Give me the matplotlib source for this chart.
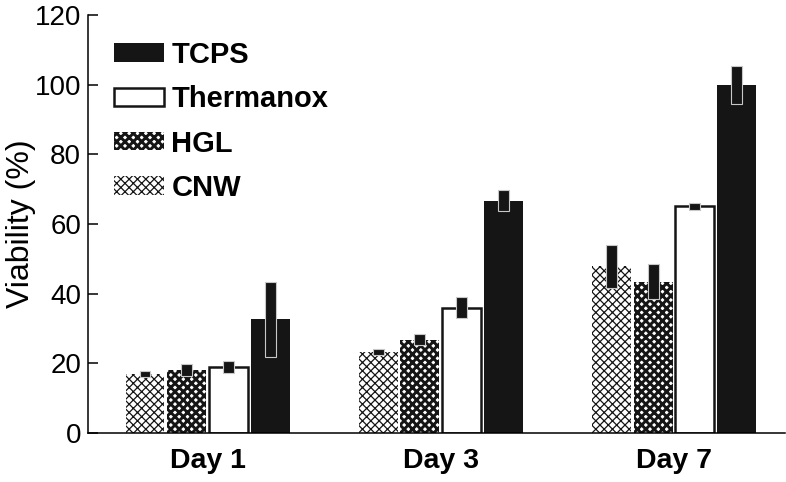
import matplotlib
matplotlib.use("Agg")
import matplotlib.pyplot as plt
import numpy as np

days = ["Day 1", "Day 3", "Day 7"]
series = ["CNW", "HGL", "Thermanox", "TCPS"]
cnw = [16.9, 23.2, 47.9]
cnw_err = [0.9, 0.9, 6.2]
hgl = [18.1, 26.8, 43.4]
hgl_err = [1.6, 1.6, 5.0]
thermanox = [19.0, 36.0, 65.1]
thermanox_err = [1.7, 2.9, 1.0]
tcps = [32.6, 66.7, 99.9]
tcps_err = [10.7, 3.1, 5.4]

plt.rcParams["font.family"] = ["Liberation Sans", "DejaVu Sans"]
plt.rcParams["font.size"] = 20

fig = plt.figure(figsize=(7.86, 4.82), dpi=100)
ax = fig.add_axes([88 / 786, 49 / 482, (785 - 88) / 786, (433 - 15) / 482])

x = np.arange(len(days))
step = 0.179
width = 0.167
black = "#151515"

values = [cnw, hgl, thermanox, tcps]
errors = [cnw_err, hgl_err, thermanox_err, tcps_err]
styles = [
    dict(facecolor="white", edgecolor=black, linewidth=0, hatch="xxxx", hlw=0.9),
    dict(facecolor="white", edgecolor=black, linewidth=0, hatch="xxxx", hlw=2.1),
    dict(facecolor="white", edgecolor=black, linewidth=1.8, hatch=None, hlw=1.0),
    dict(facecolor=black, edgecolor=black, linewidth=0, hatch=None, hlw=1.0),
]

handles = {}
hlws = {}
for i, (name, vals, errs, st) in enumerate(zip(series, values, errors, styles)):
    pos = x + (i - 1.5) * step
    plt.rcParams["hatch.linewidth"] = st["hlw"]
    bars = ax.bar(pos, vals, width=width, facecolor=st["facecolor"],
                  edgecolor=st["edgecolor"], linewidth=st["linewidth"],
                  hatch=st["hatch"], label=name, zorder=2)
    for b in bars:
        if hasattr(b, "set_hatch_linewidth"):
            b.set_hatch_linewidth(st["hlw"])
    handles[name] = bars
    hlws[name] = st["hlw"]
    lo = np.array(vals) - np.array(errs)
    ax.bar(pos, 2 * np.array(errs), bottom=lo, width=0.047, facecolor=black,
           edgecolor="#c8c8c8", linewidth=0.8, zorder=3)

ax.set_xlim(-0.513, 2.476)
ax.set_ylim(0, 120)
ax.set_yticks([0, 20, 40, 60, 80, 100, 120])
ax.set_xticks(x)
ax.set_xticklabels(days, fontweight="bold", fontsize=20.5)
ax.tick_params(axis="x", length=0, pad=11)
ax.tick_params(axis="y", direction="in", length=7, width=1.1, pad=5)
for s in ["top", "right"]:
    ax.spines[s].set_visible(False)
for s in ["left", "bottom"]:
    ax.spines[s].set_linewidth(1.1)

ax.set_ylabel("Viability (%)", fontsize=23)
ax.yaxis.set_label_coords(-0.0746, 0.5)

order = ["TCPS", "Thermanox", "HGL", "CNW"]
leg = ax.legend([handles[n] for n in order], order, loc="upper left",
                bbox_to_anchor=(108 / 786, 447 / 482), bbox_transform=fig.transFigure,
                frameon=False, prop={"weight": "bold", "size": 21},
                handlelength=1.72, handleheight=0.58, handletextpad=0.25,
                labelspacing=0.56, borderaxespad=0, borderpad=0.2)
for p, n in zip(leg.get_patches(), order):
    if hasattr(p, "set_hatch_linewidth"):
        p.set_hatch_linewidth(hlws[n])

fig.savefig("out.png", dpi=100)
